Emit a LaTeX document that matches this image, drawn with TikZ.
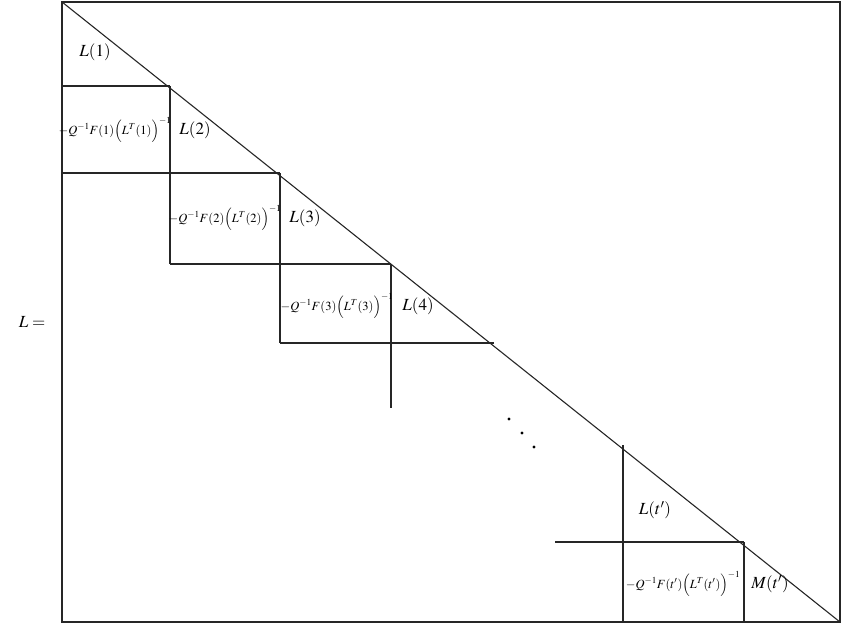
\documentclass[tikz,border=0pt]{standalone}
\usepackage{mathptmx}
\begin{document}
\begin{tikzpicture}[x=1pt,y=-1pt,
  grid/.style={line width=1.1pt,draw=black!85},
  big/.style={font=\fontsize{17}{20}\selectfont,inner sep=0pt},
  small/.style={font=\fontsize{12.5}{15}\selectfont,inner sep=0pt}]
\useasboundingbox (0,0) rectangle (842,624);
% outer frame and diagonal
\draw[grid] (62,2) rectangle (840,622);
\draw[grid] (62,2) -- (840,622);
% block lines
\draw[grid] (62,86) -- (170,86);
\draw[grid] (170,86) -- (170,264);
\draw[grid] (62,173) -- (280,173);
\draw[grid] (280,173) -- (280,343);
\draw[grid] (170,264) -- (391,264);
\draw[grid] (391,264) -- (391,408);
\draw[grid] (280,343) -- (494,343);
\draw[grid] (623,445) -- (623,622);
\draw[grid] (555,542) -- (744,542);
\draw[grid] (744,542) -- (744,622);
% dots
\fill (509,419) circle (1.7) (522,433) circle (1.7) (534,447) circle (1.7);
% labels
\node[big] (Leq) at (32,322) {$L=$};
\node[big] (L1) at (95,52) {$L(1)$};
\node[small] (B1) at (115,130) {$-Q^{-1}F(1)\Big(L^T(1)\Big)^{-1}$};
\node[big] (L2) at (195,130) {$L(2)$};
\node[small] (B2) at (225,218) {$-Q^{-1}F(2)\Big(L^T(2)\Big)^{-1}$};
\node[big] (L3) at (305,218) {$L(3)$};
\node[small] (B3) at (337,306) {$-Q^{-1}F(3)\Big(L^T(3)\Big)^{-1}$};
\node[big] (L4) at (418,306) {$L(4)$};
\node[big] (Lt) at (655,510) {$L(t')$};
\node[small] (Bt) at (683,584) {$-Q^{-1}F(t')\Big(L^T(t')\Big)^{-1}$};
\node[big] (Mt) at (770,584) {$M(t')$};
\end{tikzpicture}
\end{document}
